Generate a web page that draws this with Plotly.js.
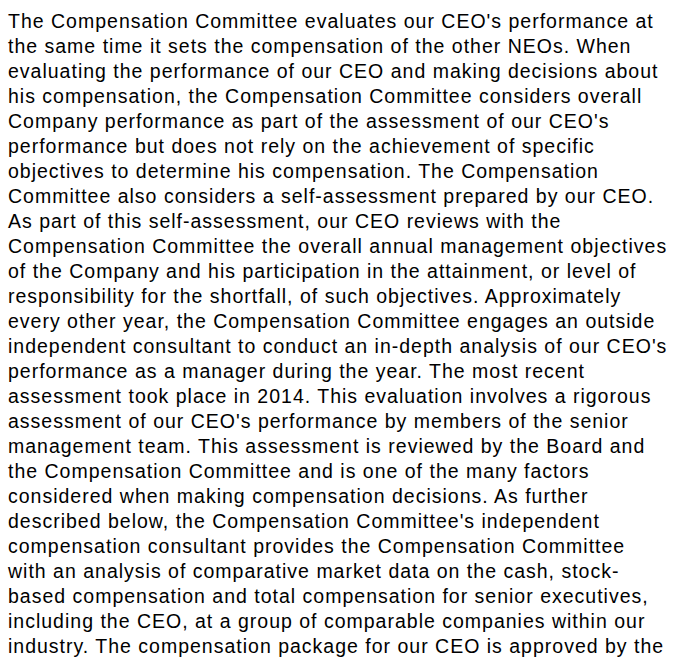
<!DOCTYPE html>
<html>
<head>
<meta charset="utf-8">
<script src="https://cdn.plot.ly/plotly-3.0.1.min.js"></script>
<style>
  html, body { margin: 0; padding: 0; background: #ffffff; }
  #chart { width: 678px; height: 660px; }
  .textpoint text { letter-spacing: 1.0px; }
</style>
</head>
<body>
<div id="chart"></div>
<script>
// Paragraph lines, in reading order
const lines = [
  "The Compensation Committee evaluates our CEO's performance at",
  "the same time it sets the compensation of the other NEOs. When",
  "evaluating the performance of our CEO and making decisions about",
  "his compensation, the Compensation Committee considers overall",
  "Company performance as part of the assessment of our CEO's",
  "performance but does not rely on the achievement of specific",
  "objectives to determine his compensation. The Compensation",
  "Committee also considers a self-assessment prepared by our CEO.",
  "As part of this self-assessment, our CEO reviews with the",
  "Compensation Committee the overall annual management objectives",
  "of the Company and his participation in the attainment, or level of",
  "responsibility for the shortfall, of such objectives. Approximately",
  "every other year, the Compensation Committee engages an outside",
  "independent consultant to conduct an in-depth analysis of our CEO's",
  "performance as a manager during the year. The most recent",
  "assessment took place in 2014. This evaluation involves a rigorous",
  "assessment of our CEO's performance by members of the senior",
  "management team. This assessment is reviewed by the Board and",
  "the Compensation Committee and is one of the many factors",
  "considered when making compensation decisions. As further",
  "described below, the Compensation Committee's independent",
  "compensation consultant provides the Compensation Committee",
  "with an analysis of comparative market data on the cash, stock-",
  "based compensation and total compensation for senior executives,",
  "including the CEO, at a group of comparable companies within our",
  "industry. The compensation package for our CEO is approved by the"
];
const lineNumbers = lines.map((_, i) => i);
const lineStart = lines.map(() => 0);

const trace = {
  type: 'scatter',
  mode: 'text',
  x: lineStart,
  y: lineNumbers,
  text: lines,
  textposition: 'middle right',
  textfont: { family: '"Liberation Sans", Arial, Helvetica, sans-serif', size: 19.5, color: '#000000' },
  hoverinfo: 'skip',
  showlegend: false,
  cliponaxis: false
};

const pxPerLine = 25.0;
const firstLinePx = 23.5;
const yTop = -firstLinePx / pxPerLine;
const yBottom = yTop + 660 / pxPerLine;

const layout = {
  width: 678,
  height: 660,
  margin: { l: 0, r: 0, t: 0, b: 0, pad: 0 },
  paper_bgcolor: '#ffffff',
  plot_bgcolor: '#ffffff',
  showlegend: false,
  xaxis: { visible: false, range: [-8, 670], fixedrange: true },
  yaxis: { visible: false, range: [yBottom, yTop], fixedrange: true }
};

Plotly.newPlot('chart', [trace], layout, { displayModeBar: false, staticPlot: true });
</script>
</body>
</html>
